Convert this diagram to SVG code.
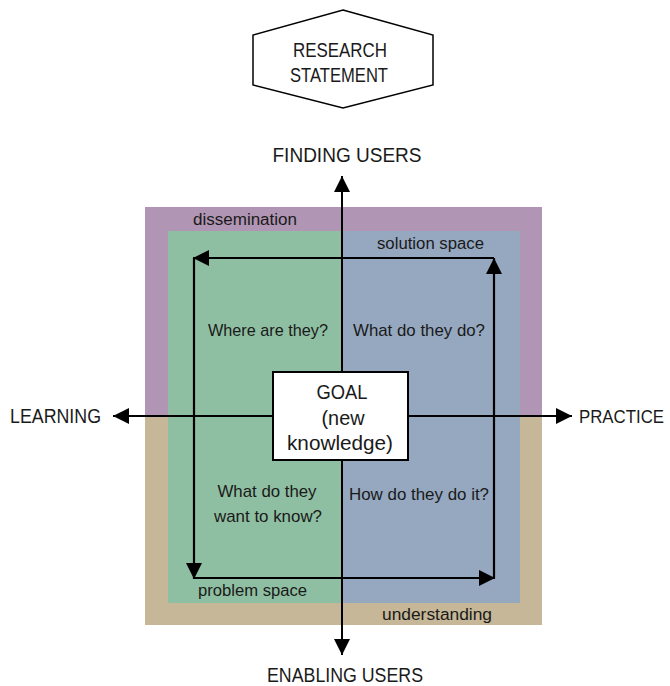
<svg xmlns="http://www.w3.org/2000/svg" width="670" height="686" viewBox="0 0 670 686">
  <style>
    text { font-family: "Liberation Sans", Arial, sans-serif; fill: #1a1a1a; }
    .big { font-size: 20px; }
    .mid { font-size: 17px; }
    .small { font-size: 16px; }
    .axis { stroke: #000; stroke-width: 2; fill: none; }
    .loop { stroke: #000; stroke-width: 2.2; fill: none; }
  </style>
  <defs>
    <marker id="head" viewBox="0 0 16 16" refX="16" refY="8" markerWidth="16" markerHeight="16" markerUnits="userSpaceOnUse" orient="auto">
      <path d="M0,0 L16,8 L0,16 Z" fill="#000"/>
    </marker>
  </defs>

  <!-- background bands -->
  <g id="bands">
    <rect x="145" y="207" width="397" height="210" fill="#b195b4"/>
    <rect x="145" y="416" width="397" height="209" fill="#c5b797"/>
    <rect x="168" y="231" width="174" height="372" fill="#8fbfa2"/>
    <rect x="342" y="231" width="178" height="372" fill="#95a8c0"/>
  </g>

  <!-- connectors -->
  <g id="connectors">
    <line class="axis" x1="342" y1="620" x2="342" y2="176" marker-end="url(#head)"/>
    <line class="axis" x1="342" y1="416" x2="342" y2="655" marker-end="url(#head)"/>
    <line class="axis" x1="342" y1="416" x2="113" y2="416" marker-end="url(#head)"/>
    <line class="axis" x1="342" y1="416" x2="572" y2="416" marker-end="url(#head)"/>
    <polyline class="loop" points="494,578 494,258" marker-end="url(#head)"/>
    <polyline class="loop" points="494,258 193,258" marker-end="url(#head)"/>
    <polyline class="loop" points="194,258 194,579" marker-end="url(#head)"/>
    <polyline class="loop" points="194,578 495,578" marker-end="url(#head)"/>
  </g>

  <g id="research-statement">
    <polygon points="343,10 433,35 433,85 343,108 253,85 253,35" fill="#fff" stroke="#000" stroke-width="1.5"/>
    <text class="big" x="340" y="57" text-anchor="middle" textLength="94" lengthAdjust="spacingAndGlyphs">RESEARCH</text>
    <text class="big" x="339" y="82" text-anchor="middle" textLength="98" lengthAdjust="spacingAndGlyphs">STATEMENT</text>
  </g>

  <g id="finding-users">
    <text class="big" x="347" y="162" text-anchor="middle" textLength="149" lengthAdjust="spacingAndGlyphs">FINDING USERS</text>
  </g>
  <g id="enabling-users">
    <text class="big" x="345" y="682" text-anchor="middle" textLength="156" lengthAdjust="spacingAndGlyphs">ENABLING USERS</text>
  </g>
  <g id="learning">
    <text class="big" x="10" y="423" textLength="91" lengthAdjust="spacingAndGlyphs">LEARNING</text>
  </g>
  <g id="practice">
    <text x="579" y="423" font-size="17.5" textLength="85" lengthAdjust="spacingAndGlyphs">PRACTICE</text>
  </g>

  <g id="goal">
    <rect x="273" y="372" width="135" height="88" fill="#fff" stroke="#000" stroke-width="2"/>
    <text class="big" x="342" y="399" text-anchor="middle" textLength="51" lengthAdjust="spacingAndGlyphs">GOAL</text>
    <text class="big" x="343" y="425" text-anchor="middle" textLength="43" lengthAdjust="spacingAndGlyphs">(new</text>
    <text class="big" x="340" y="450" text-anchor="middle" textLength="106" lengthAdjust="spacingAndGlyphs">knowledge)</text>
  </g>

  <g id="labels">
    <text class="small" x="193" y="225" textLength="104" lengthAdjust="spacingAndGlyphs">dissemination</text>
    <text class="small" x="377" y="249" textLength="107" lengthAdjust="spacingAndGlyphs">solution space</text>
    <text class="small" x="198" y="596" textLength="109" lengthAdjust="spacingAndGlyphs">problem space</text>
    <text class="small" x="382" y="620" textLength="110" lengthAdjust="spacingAndGlyphs">understanding</text>
  </g>

  <g id="where">
    <text class="mid" x="208" y="336" textLength="120" lengthAdjust="spacingAndGlyphs">Where are they?</text>
  </g>
  <g id="what-do">
    <text class="mid" x="353" y="336" textLength="132" lengthAdjust="spacingAndGlyphs">What do they do?</text>
  </g>
  <g id="want-to-know">
    <text class="mid" x="267" y="497" text-anchor="middle" textLength="99" lengthAdjust="spacingAndGlyphs">What do they</text>
    <text class="mid" x="268" y="522" text-anchor="middle" textLength="108" lengthAdjust="spacingAndGlyphs">want to know?</text>
  </g>
  <g id="how">
    <text class="mid" x="349" y="500" textLength="140" lengthAdjust="spacingAndGlyphs">How do they do it?</text>
  </g>
</svg>
